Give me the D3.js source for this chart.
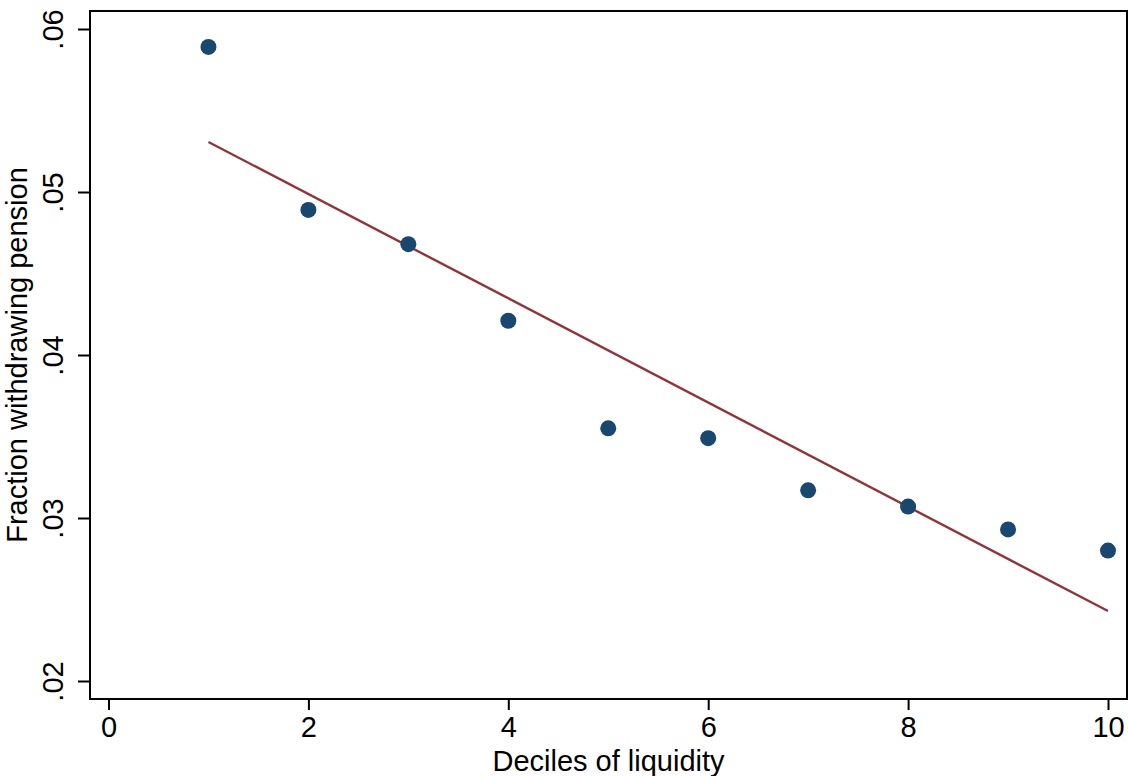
<!DOCTYPE html>
<html>
<head>
<meta charset="utf-8">
<script src="https://cdn.jsdelivr.net/npm/d3@7"></script>
<style>
  html, body { margin: 0; padding: 0; background: #fff; }
  svg { display: block; }
  text { font-family: "Liberation Sans", Arial, sans-serif; fill: #000; }
</style>
</head>
<body>
<svg id="chart" width="1128" height="776"></svg>
<script>
// Data
const deciles = [1, 2, 3, 4, 5, 6, 7, 8, 9, 10];
const fractionWithdrawing = [0.0589, 0.0489, 0.0468, 0.0421, 0.0355, 0.0349, 0.0317, 0.0307, 0.0293, 0.0280];
const xTicks = [0, 2, 4, 6, 8, 10];
const yTicks = [0.02, 0.03, 0.04, 0.05, 0.06];
const yTickLabels = [".02", ".03", ".04", ".05", ".06"];

const svg = d3.select("#chart");
const box = { left: 90, right: 1127, top: 11, bottom: 699 };
const fontSize = "29px";

const x = d3.scaleLinear().domain([0, 10]).range([108.5, 1108]);
const y = d3.scaleLinear().domain([0.02, 0.06]).range([681, 29]);

// Linear fit (OLS) from the data
const mx = d3.mean(deciles), my = d3.mean(fractionWithdrawing);
let sxy = 0, sxx = 0;
deciles.forEach((d, i) => { sxy += (d - mx) * (fractionWithdrawing[i] - my); sxx += (d - mx) ** 2; });
const slope = sxy / sxx, intercept = my - slope * mx;
const fitX = d3.extent(deciles);

// Frame
svg.append("rect")
  .attr("x", box.left).attr("y", box.top)
  .attr("width", box.right - box.left).attr("height", box.bottom - box.top)
  .attr("fill", "none").attr("stroke", "#000").attr("stroke-width", 2);

// Axes
const xAxis = d3.axisBottom(x).tickValues(xTicks).tickFormat(d3.format("d")).tickSize(11).tickPadding(6);
const gx = svg.append("g").attr("transform", `translate(0,${box.bottom})`).call(xAxis);
gx.select(".domain").remove();
gx.selectAll("line").attr("stroke", "#000").attr("stroke-width", 2);
gx.selectAll("text").style("font-size", fontSize).attr("fill", "#000")
  .attr("font-family", "Liberation Sans, Arial, sans-serif");

const yAxis = d3.axisLeft(y).tickValues(yTicks).tickFormat((d, i) => yTickLabels[i]).tickSize(12).tickPadding(6);
const gy = svg.append("g").attr("transform", `translate(${box.left},0)`).call(yAxis);
gy.select(".domain").remove();
gy.selectAll("line").attr("stroke", "#000").attr("stroke-width", 2);
gy.selectAll("text")
  .style("font-size", fontSize).attr("fill", "#000")
  .attr("font-family", "Liberation Sans, Arial, sans-serif")
  .attr("x", null).attr("dy", null)
  .attr("text-anchor", "middle")
  .attr("transform", "translate(-27,0) rotate(-90)");

// Fit line
svg.append("line")
  .attr("x1", x(fitX[0])).attr("y1", y(intercept + slope * fitX[0]))
  .attr("x2", x(fitX[1])).attr("y2", y(intercept + slope * fitX[1]))
  .attr("stroke", "#90353b").attr("stroke-width", 2.4);

// Points
svg.append("g").selectAll("circle")
  .data(deciles)
  .join("circle")
  .attr("cx", d => x(d))
  .attr("cy", (d, i) => y(fractionWithdrawing[i]))
  .attr("r", 8)
  .attr("fill", "#1a476f");

// Axis titles
svg.append("text")
  .attr("x", (box.left + box.right) / 2).attr("y", 771)
  .attr("text-anchor", "middle")
  .style("font-size", fontSize)
  .text("Deciles of liquidity");

svg.append("text")
  .attr("transform", `translate(27,${(box.top + box.bottom) / 2}) rotate(-90)`)
  .attr("text-anchor", "middle")
  .style("font-size", fontSize)
  .text("Fraction withdrawing pension");
</script>
</body>
</html>
